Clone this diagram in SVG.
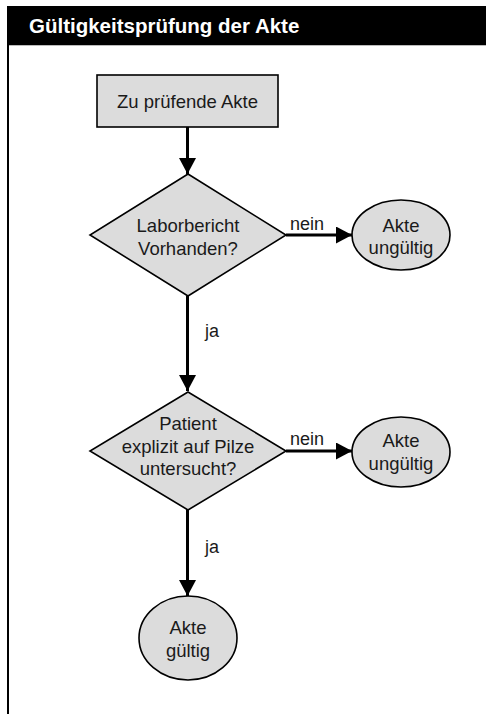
<svg xmlns="http://www.w3.org/2000/svg" width="486" height="714" viewBox="0 0 486 714">
<defs>
<style>
.shape{fill:#dcdcdc;stroke:#000;stroke-width:1.6}
.lbl{font-family:"Liberation Sans",Arial,sans-serif;font-size:18.5px;fill:#1a1a1a;text-anchor:middle}
.edge{stroke:#000;stroke-width:3;fill:none}
.elbl{font-family:"Liberation Sans",Arial,sans-serif;font-size:18px;fill:#1a1a1a}
</style>
<marker id="arr" viewBox="0 0 16 17" refX="16" refY="8.5" markerWidth="16" markerHeight="17" markerUnits="userSpaceOnUse" orient="auto">
<path d="M0,0 L16,8.5 L0,17 Z" fill="#000"/>
</marker>
</defs>
<rect width="486" height="714" fill="#fff"/>
<g id="frame">
<rect x="7" y="6" width="479" height="39" fill="#000"/>
<line x1="8" y1="45" x2="8" y2="714" stroke="#000" stroke-width="2"/>
<line x1="9" y1="45.5" x2="486" y2="45.5" stroke="#bbb" stroke-width="1"/>
<text x="29" y="33" font-family="'Liberation Sans',Arial,sans-serif" font-size="20.5" font-weight="bold" fill="#fff">Gültigkeitsprüfung der Akte</text>
</g>
<g id="connectors">
<line class="edge" x1="187.5" y1="127" x2="187.5" y2="174" marker-end="url(#arr)"/>
<line class="edge" x1="286" y1="235" x2="352" y2="235" marker-end="url(#arr)"/>
<text class="elbl" x="290" y="230">nein</text>
<line class="edge" x1="187.5" y1="296" x2="187.5" y2="391" marker-end="url(#arr)"/>
<text class="elbl" x="205" y="337">ja</text>
<line class="edge" x1="286" y1="451" x2="352" y2="451" marker-end="url(#arr)"/>
<text class="elbl" x="290" y="445">nein</text>
<line class="edge" x1="187.5" y1="510" x2="187.5" y2="596" marker-end="url(#arr)"/>
<text class="elbl" x="205" y="553">ja</text>
</g>
<g id="start">
<rect class="shape" x="97" y="75" width="181" height="52"/>
<text class="lbl" x="187.5" y="108">Zu prüfende Akte</text>
</g>
<g id="decision1">
<polygon class="shape" points="188,174 286,235 188,296 90,235"/>
<text class="lbl" x="188" y="232">Laborbericht</text>
<text class="lbl" x="188" y="255">Vorhanden?</text>
</g>
<g id="invalid1">
<ellipse class="shape" cx="401" cy="235" rx="49" ry="35"/>
<text class="lbl" x="401" y="232">Akte</text>
<text class="lbl" x="401" y="254">ungültig</text>
</g>
<g id="decision2">
<polygon class="shape" points="188,392 286,451 188,510 90,451"/>
<text class="lbl" x="188" y="430">Patient</text>
<text class="lbl" x="188" y="453">explizit auf Pilze</text>
<text class="lbl" x="188" y="475">untersucht?</text>
</g>
<g id="invalid2">
<ellipse class="shape" cx="401" cy="452" rx="49" ry="35"/>
<text class="lbl" x="401" y="447">Akte</text>
<text class="lbl" x="401" y="470">ungültig</text>
</g>
<g id="valid">
<ellipse class="shape" cx="188" cy="638" rx="49" ry="42"/>
<text class="lbl" x="188" y="634">Akte</text>
<text class="lbl" x="188" y="657">gültig</text>
</g>
</svg>
